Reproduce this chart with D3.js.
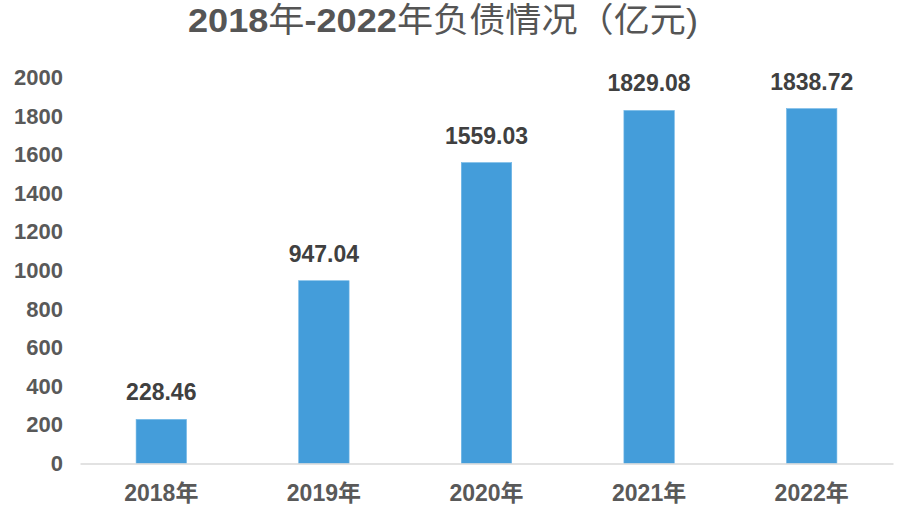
<!DOCTYPE html>
<html><head><meta charset="utf-8">
<script src="https://cdn.jsdelivr.net/npm/d3@7"></script>
<style>body{margin:0;background:#fff}svg{display:block}</style>
</head><body>
<script>
const categories = ["2018年","2019年","2020年","2021年","2022年"];
const values = [228.46, 947.04, 1559.03, 1829.08, 1838.72];
const yTicks = [0,200,400,600,800,1000,1200,1400,1600,1800,2000];
const titleParts = [["2018", true], ["年", false], ["-2022", true], ["年负债情况（亿元)", false]];

const W = 900, H = 506;
const svg = d3.select("body").append("svg").attr("width", W).attr("height", H);
const font = "'Liberation Sans','Noto Sans CJK SC',Arial,sans-serif";

const x = d3.scaleBand().domain(categories).range([80, 893]).paddingInner(0.69).paddingOuter(0.345);
const y = d3.scaleLinear().domain([0, 2000]).range([463.5, 77.5]);

const t = svg.append("text").attr("x", 188).attr("y", 32)
  .attr("font-family", font).attr("font-size", 34).attr("fill", "#555")
  .attr("textLength", 510).attr("lengthAdjust", "spacingAndGlyphs");
titleParts.forEach(([s, b]) => t.append("tspan").attr("font-weight", b ? "bold" : "normal").text(s));

// y axis labels
const ya = svg.append("g").attr("transform", "translate(63,0)")
  .call(d3.axisLeft(y).tickValues(yTicks).tickFormat(d3.format("d")).tickSize(0).tickPadding(0));
ya.select(".domain").remove();
ya.selectAll("text").attr("font-family", font).attr("font-size", 22).attr("font-weight", "bold").attr("fill", "#595959");

// bars
svg.selectAll("rect.bar").data(values).join("rect").attr("class", "bar")
  .attr("x", (d, i) => x(categories[i])).attr("width", x.bandwidth())
  .attr("y", d => y(d)).attr("height", d => y(0) - y(d))
  .attr("fill", "#449DDA").attr("stroke", "#6fb6e6").attr("stroke-width", 0.6);

// value labels
svg.selectAll("text.val").data(values).join("text").attr("class", "val")
  .attr("x", (d, i) => x(categories[i]) + x.bandwidth() / 2).attr("y", d => y(d) - 19)
  .attr("text-anchor", "middle").attr("font-family", font).attr("font-size", 23)
  .attr("font-weight", "bold").attr("fill", "#404040").text(d => d.toFixed(2));

// x axis
const xa = svg.append("g").attr("transform", `translate(0,${y(0)})`)
  .call(d3.axisBottom(x).tickSize(0).tickPadding(21));
xa.select(".domain").attr("stroke", "#d9d9d9").attr("stroke-width", 1.5);
xa.selectAll("text").attr("font-family", font).attr("font-size", 23).attr("font-weight", "bold").attr("fill", "#595959");
</script>
</body></html>
